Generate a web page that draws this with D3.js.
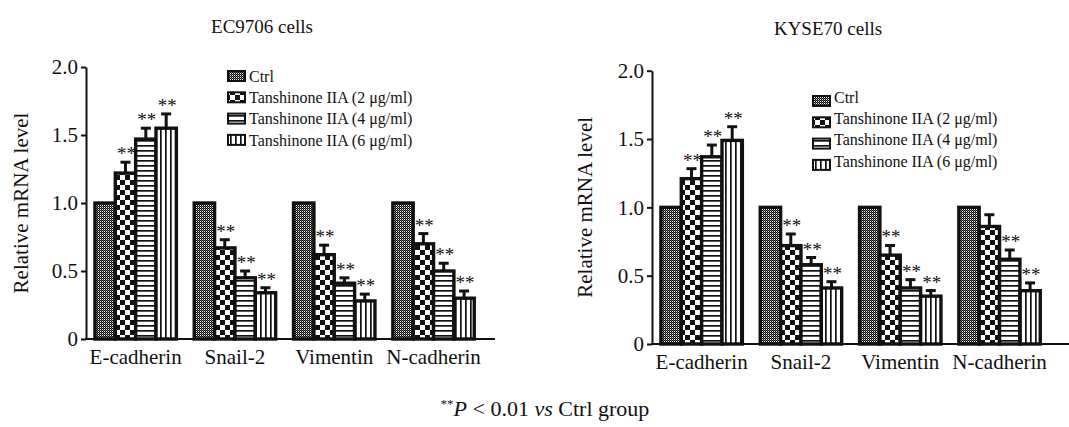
<!DOCTYPE html>
<html>
<head>
<meta charset="utf-8">
<script src="https://cdn.jsdelivr.net/npm/d3@7"></script>
<style>
  html, body { margin: 0; padding: 0; background: #ffffff; }
  svg { display: block; }
  text { font-family: "Liberation Serif", "Times New Roman", serif; fill: #111; }
</style>
</head>
<body>
<svg id="chart" width="1069" height="427"></svg>
<script>
// ---------------- data ----------------
const categories = ["E-cadherin", "Snail-2", "Vimentin", "N-cadherin"];
const seriesLabels = ["Ctrl", "Tanshinone IIA (2 μg/ml)", "Tanshinone IIA (4 μg/ml)", "Tanshinone IIA (6 μg/ml)"];
const yTicks = [0, 0.5, 1.0, 1.5, 2.0];
const yTickLabels = ["0", "0.5", "1.0", "1.5", "2.0"];
const panelTitles = ["EC9706 cells", "KYSE70 cells"];
const yAxisLabel = "Relative mRNA level";
const footnoteStars = "**";
const footnoteP = "P";
const footnoteMid = " < 0.01 ";
const footnoteVs = "vs";
const footnoteEnd = " Ctrl group";

// EC9706 cells
const ecCtrl = [1.0, 1.0, 1.0, 1.0];
const ec2 = [1.22, 0.67, 0.62, 0.70];
const ec4 = [1.47, 0.45, 0.41, 0.50];
const ec6 = [1.55, 0.34, 0.28, 0.30];
const ecErrCtrl = [0, 0, 0, 0];
const ecErr2 = [0.08, 0.06, 0.07, 0.075];
const ecErr4 = [0.08, 0.05, 0.04, 0.057];
const ecErr6 = [0.105, 0.037, 0.05, 0.053];
const ecSig = [[false, false, false, false], [true, true, true, true], [true, true, true, true], [true, true, true, true]];

// KYSE70 cells
const kyCtrl = [1.0, 1.0, 1.0, 1.0];
const ky2 = [1.21, 0.72, 0.65, 0.86];
const ky4 = [1.37, 0.58, 0.41, 0.62];
const ky6 = [1.49, 0.41, 0.35, 0.39];
const kyErrCtrl = [0, 0, 0, 0];
const kyErr2 = [0.073, 0.085, 0.071, 0.086];
const kyErr4 = [0.086, 0.053, 0.061, 0.068];
const kyErr6 = [0.10, 0.046, 0.041, 0.057];
const kySig = [[false, false, false, false], [true, true, true, false], [true, true, true, true], [true, true, true, true]];

// ---------------- drawing ----------------
const svg = d3.select("#chart");
const defs = svg.append("defs");
const SERIF = "'Liberation Serif', 'Times New Roman', serif";

// patterns
function addPattern(id, w, h, build) {
  const p = defs.append("pattern").attr("id", id).attr("patternUnits", "userSpaceOnUse")
    .attr("width", w).attr("height", h);
  p.append("rect").attr("width", w).attr("height", h).attr("fill", "#fff");
  build(p);
}
addPattern("pCtrl", 2, 2, p => {
  p.append("rect").attr("x", 0).attr("y", 0).attr("width", 1).attr("height", 1).attr("fill", "#000");
  p.append("rect").attr("x", 1).attr("y", 1).attr("width", 1).attr("height", 1).attr("fill", "#000");
  p.append("rect").attr("x", 1).attr("y", 0).attr("width", 1).attr("height", 1).attr("fill", "#666");
});
addPattern("p2", 10, 10, p => {
  p.append("rect").attr("x", 0).attr("y", 0).attr("width", 5).attr("height", 5).attr("fill", "#111");
  p.append("rect").attr("x", 5).attr("y", 5).attr("width", 5).attr("height", 5).attr("fill", "#111");
});
addPattern("p4", 5, 5, p => {
  p.append("rect").attr("x", 0).attr("y", 0).attr("width", 5).attr("height", 1.7).attr("fill", "#111");
});
addPattern("p6", 5, 5, p => {
  p.append("rect").attr("x", 0).attr("y", 0).attr("width", 1.7).attr("height", 5).attr("fill", "#111");
});
const patternIds = ["pCtrl", "p2", "p4", "p6"];

function drawPanel(cfg) {
  const g = svg.append("g");
  const y = d3.scaleLinear().domain([0, 2]).range([cfg.y0, cfg.y2]);
  const x = d3.scaleBand().domain(categories)
    .range([cfg.axisX, cfg.axisX + 4 * 99.3]).paddingInner(0.18).paddingOuter(0.09);
  const xi = d3.scaleBand().domain(d3.range(seriesLabels.length)).range([0, x.bandwidth()]).padding(0);

  // title
  g.append("text").attr("x", cfg.titleX).attr("y", cfg.titleY).attr("text-anchor", "middle")
    .attr("font-family", SERIF).style("font-size", "19px").text(cfg.title);

  // y axis label
  g.append("text")
    .attr("transform", `translate(${cfg.labelX},${(cfg.y0 + cfg.y2) / 2}) rotate(-90)`)
    .attr("text-anchor", "middle").attr("dy", "0.35em").attr("font-family", SERIF)
    .style("font-size", "21px").text(yAxisLabel);

  // bars
  cfg.series.forEach((vals, si) => {
    const sg = g.append("g");
    categories.forEach((c, ci) => {
      const bx = x(c) + xi(si);
      const bw = xi.bandwidth();
      const v = vals[ci];
      const e = cfg.errs[si][ci];
      sg.append("rect").attr("x", bx).attr("y", y(v)).attr("width", bw).attr("height", y(0) - y(v))
        .attr("fill", `url(#${patternIds[si]})`).attr("stroke", "#111").attr("stroke-width", 3.4);
      if (e > 0) {
        const cx = bx + bw / 2;
        sg.append("line").attr("x1", cx).attr("x2", cx).attr("y1", y(v)).attr("y2", y(v + e))
          .attr("stroke", "#111").attr("stroke-width", 3);
        sg.append("line").attr("x1", cx - 5).attr("x2", cx + 5).attr("y1", y(v + e)).attr("y2", y(v + e))
          .attr("stroke", "#111").attr("stroke-width", 3);
      }
      if (cfg.sig[si][ci]) {
        sg.append("text").attr("x", bx + bw / 2 + 1).attr("y", y(v + e) - 2)
          .attr("text-anchor", "middle").attr("font-family", SERIF).style("font-size", "19px").text("**");
      }
    });
  });

  // y axis
  const yAxis = d3.axisLeft(y).tickValues(yTicks)
    .tickFormat((d, i) => yTickLabels[i]).tickSize(5).tickSizeOuter(0).tickPadding(3);
  const ya = g.append("g").attr("transform", `translate(${cfg.axisX},0)`).call(yAxis)
    .attr("font-family", SERIF).attr("font-size", 21);
  ya.select(".domain").attr("stroke", "#111").attr("stroke-width", 2);
  ya.selectAll(".tick line").attr("stroke", "#111").attr("stroke-width", 2);
  ya.selectAll(".tick text").attr("font-family", SERIF).style("font-size", "21px").attr("fill", "#111");

  // x axis
  const xAxis = d3.axisBottom(x).tickSize(0).tickPadding(10);
  const xa = g.append("g").attr("transform", `translate(0,${cfg.y0})`).call(xAxis)
    .attr("font-family", SERIF).attr("font-size", 21);
  xa.select(".domain").remove();
  xa.selectAll(".tick text").attr("font-family", SERIF).style("font-size", "21px").attr("fill", "#111");
  g.append("line").attr("x1", cfg.axisX - 1).attr("x2", cfg.axisEnd).attr("y1", cfg.y0).attr("y2", cfg.y0)
    .attr("stroke", "#111").attr("stroke-width", 2);

  // legend
  const lg = g.append("g");
  seriesLabels.forEach((lab, i) => {
    const ry = cfg.legendY + i * cfg.legendStep;
    lg.append("rect").attr("x", cfg.legendX).attr("y", ry - 5 + cfg.swatchOffset).attr("width", 17).attr("height", 10)
      .attr("fill", `url(#${patternIds[i]})`).attr("stroke", "#111").attr("stroke-width", 2);
    lg.append("text").attr("x", cfg.legendX + 21).attr("y", ry).attr("dy", "0.35em")
      .attr("font-family", SERIF).style("font-size", "16px").text(lab);
  });
}

drawPanel({
  title: panelTitles[0], titleX: 262, titleY: 33,
  axisX: 86, axisEnd: 495, y0: 339, y2: 67, labelX: 21,
  series: [ecCtrl, ec2, ec4, ec6], errs: [ecErrCtrl, ecErr2, ecErr4, ecErr6], sig: ecSig,
  legendX: 228, legendY: 76, legendStep: 21.3, swatchOffset: 0
});
drawPanel({
  title: panelTitles[1], titleX: 828, titleY: 35,
  axisX: 652, axisEnd: 1069, y0: 344, y2: 70.7, labelX: 585,
  series: [kyCtrl, ky2, ky4, ky6], errs: [kyErrCtrl, kyErr2, kyErr4, kyErr6], sig: kySig,
  legendX: 813, legendY: 97, legendStep: 21.3, swatchOffset: 4
});

// footnote
const fn = svg.append("text").attr("x", 545).attr("y", 416).attr("text-anchor", "middle")
  .attr("font-family", SERIF).style("font-size", "22px");
fn.append("tspan").style("font-size", "13px").attr("dy", "-8").text(footnoteStars);
fn.append("tspan").style("font-style", "italic").attr("dy", "8").text(footnoteP);
fn.append("tspan").text(footnoteMid);
fn.append("tspan").style("font-style", "italic").text(footnoteVs);
fn.append("tspan").text(footnoteEnd);
</script>
</body>
</html>
